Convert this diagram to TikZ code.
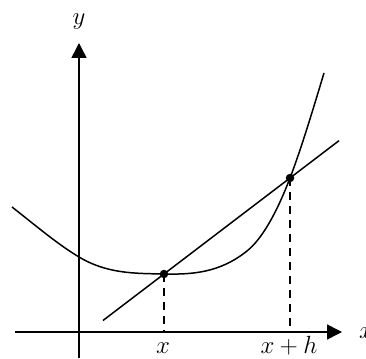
\documentclass[tikz,border=0pt]{standalone}
\usetikzlibrary{arrows.meta,calc}
\begin{document}
\begin{tikzpicture}[x=1pt,y=-1pt,
  axis/.style={line width=1.5pt,-{Triangle[length=15pt,width=15pt]}},
  curveline/.style={line width=1.5pt},
  guide/.style={line width=1.5pt,dash pattern=on 8pt off 6pt},
  dot/.style={circle,fill=black,inner sep=0pt,minimum size=8.5pt},
  lab/.style={font=\fontsize{24.88}{29}\selectfont,inner sep=0pt}]
\useasboundingbox (0,0) rectangle (366,358);
% axes
\coordinate (xs) at (15,332);
\coordinate (xe) at (342,332);
\coordinate (ys) at (79,358);
\coordinate (ye) at (79,43);
\draw[axis] (xs) -- (xe);
\draw[axis] (ys) -- (ye);
\node[lab,anchor=base] (ylab) at (79,25) {$y$};
\node[lab,anchor=base west] (xlab) at (359,338) {$x$};
% points
\coordinate (A) at (164,274);
\coordinate (B) at (290,178);
% curve (piecewise Hermite as Bezier)
\coordinate (K0) at (12,207);
\coordinate (K1) at (79,257);
\coordinate (K3) at (247,251);
\coordinate (K5) at (324,73);
\draw[curveline] (K0)
  .. controls (34.3,224.4) and (56.7,243.6) .. (K1)
  .. controls (107.3,274) and (135.7,273.4) .. (A)
  .. controls (191.7,274.55) and (219.3,273.1) .. (K3)
  .. controls (261.3,239.5) and (275.7,215.3) .. (B)
  .. controls (301.3,148.5) and (312.7,110.4) .. (K5);
% secant
\coordinate (S1) at ($(A)!-0.484!(B)$);
\coordinate (S2) at ($(A)!1.389!(B)$);
\draw[curveline] (S1) -- (S2);
% dashed guides
\draw[guide] (A) -- (A |- xs);
\draw[guide] (B) -- (B |- xs);
\node[dot] (Ad) at (A) {};
\node[dot] (Bd) at (B) {};
% labels
\node[lab,anchor=base] (lx) at (163,353) {$x$};
\node[lab,anchor=base] (lxh) at (289,353) {$x+h$};
\end{tikzpicture}
\end{document}
